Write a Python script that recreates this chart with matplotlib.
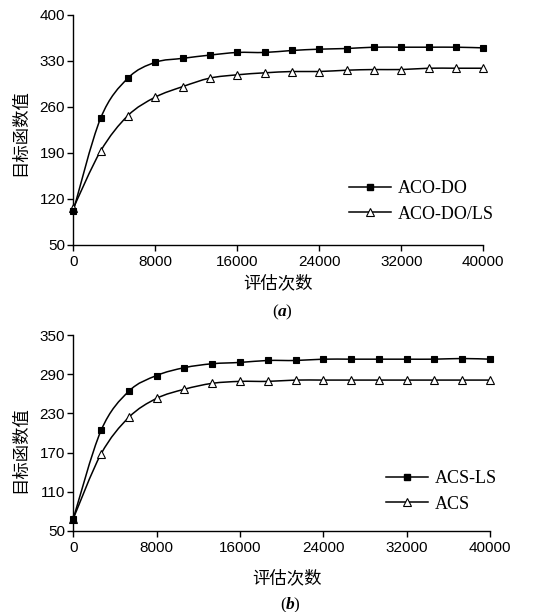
import numpy as np
import matplotlib
matplotlib.use("Agg")
import matplotlib.pyplot as plt
from matplotlib.path import Path
from matplotlib.patches import PathPatch
from matplotlib.lines import Line2D

plt.rcParams['font.family'] = ['Liberation Sans', 'Noto Sans CJK SC']

# ---------------- data ----------------
evals = [0, 2667, 5333, 8000, 10667, 13333, 16000, 18667, 21333, 24000,
         26667, 29333, 32000, 34667, 37333, 40000]

aco_do = [102, 243, 304, 328, 334, 339, 343, 343, 346, 348,
          349, 351, 351, 351, 351, 350]
aco_do_ls = [106, 193, 247, 275, 291, 304, 309, 312, 314, 314,
             316, 317, 317, 319, 319, 319]

acs_ls = [69, 204, 264, 288, 300, 306, 308, 311, 311, 313,
          313, 313, 313, 313, 314, 313]
acs = [69, 168, 224, 253, 267, 276, 279, 279, 281, 281,
       281, 281, 281, 281, 281, 281]

xticks = [0, 8000, 16000, 24000, 32000, 40000]
yticks_a = [50, 120, 190, 260, 330, 400]
yticks_b = [50, 110, 170, 230, 290, 350]
ylabel = '目标函数值'
xlabel = '评估次数'


def smooth_path(x, y):
    x = np.asarray(x, float)
    y = np.asarray(y, float)
    n = len(x)
    verts = [(x[0], y[0])]
    codes = [Path.MOVETO]
    for i in range(n - 1):
        p0 = np.array([x[max(i - 1, 0)], y[max(i - 1, 0)]])
        p1 = np.array([x[i], y[i]])
        p2 = np.array([x[i + 1], y[i + 1]])
        p3 = np.array([x[min(i + 2, n - 1)], y[min(i + 2, n - 1)]])
        c1 = p1 + (p2 - p0) / 6.0
        c2 = p2 - (p3 - p1) / 6.0
        verts += [tuple(c1), tuple(c2), tuple(p2)]
        codes += [Path.CURVE4, Path.CURVE4, Path.CURVE4]
    return Path(verts, codes)


def draw_series(ax, x, y, marker, mfc, ms):
    ax.add_patch(PathPatch(smooth_path(x, y), fill=False, lw=1.1,
                           edgecolor='black', transform=ax.transData,
                           zorder=2))
    ax.plot(x, y, linestyle='none', marker=marker, color='black',
            markerfacecolor=mfc, markeredgecolor='black', markersize=ms,
            markeredgewidth=0.8, zorder=3, clip_on=False)


def style_axes(ax, yticks):
    ax.set_xlim(0, 40000)
    ax.set_ylim(yticks[0], yticks[-1])
    ax.set_xticks(xticks)
    ax.set_yticks(yticks)
    for s in ['top', 'right']:
        ax.spines[s].set_visible(False)
    for s in ['left', 'bottom']:
        ax.spines[s].set_linewidth(1.0)
    ax.tick_params(axis='both', direction='out', length=4, width=1.0,
                   labelsize=11, colors='black')
    ax.tick_params(axis='x', pad=3)
    ax.tick_params(axis='y', pad=2)


W, H = 545, 612
fig = plt.figure(figsize=(W / 100, H / 100), dpi=100)

# ---- (a) ----
ax1 = fig.add_axes([73.3 / W, 1 - 245 / H, (483.3 - 73.3) / W, (245 - 15) / H])
style_axes(ax1, yticks_a)
draw_series(ax1, evals, aco_do_ls, '^', 'white', 5.5)
draw_series(ax1, evals, aco_do, 's', 'black', 5)
h1 = [Line2D([], [], color='black', lw=1.1, marker='s', ms=5, mfc='black'),
      Line2D([], [], color='black', lw=1.1, marker='^', ms=5.5, mfc='white',
             mew=0.8)]
fig.legend(h1, ['ACO-DO', 'ACO-DO/LS'], loc='center left',
           bbox_to_anchor=(340 / W, 1 - 201.5 / H), frameon=False,
           borderpad=0, handlelength=2.3, handletextpad=0.4, labelspacing=0.45,
           prop={'family': 'Liberation Serif', 'size': 13})
fig.text(20 / W, 1 - 133 / H, ylabel, rotation=90, ha='center',
         va='center', fontsize=12.5, family=['Noto Sans CJK SC'])
fig.text(278 / W, 1 - 283 / H, xlabel, ha='center', va='center',
         fontsize=12.5, family=['Noto Sans CJK SC'])
fig.text(278 / W, 1 - 312 / H, '(', ha='right', va='center', fontsize=12.5,
         family='Liberation Serif')
fig.text(278 / W, 1 - 312 / H, 'a', ha='left', va='center', fontsize=12.5,
         family='Liberation Serif', style='italic', weight='bold')
fig.text(285.5 / W, 1 - 312 / H, ')', ha='left', va='center', fontsize=12.5,
         family='Liberation Serif')

# ---- (b) ----
ax2 = fig.add_axes([73.3 / W, 1 - 531 / H, (490 - 73.3) / W, (531 - 335) / H])
style_axes(ax2, yticks_b)
draw_series(ax2, evals, acs, '^', 'white', 5.5)
draw_series(ax2, evals, acs_ls, 's', 'black', 5)
fig.legend(h1, ['ACS-LS', 'ACS'], loc='center left',
           bbox_to_anchor=(377 / W, 1 - 491.5 / H), frameon=False,
           borderpad=0, handlelength=2.3, handletextpad=0.4, labelspacing=0.45,
           prop={'family': 'Liberation Serif', 'size': 13})
fig.text(20 / W, 1 - 450 / H, ylabel, rotation=90, ha='center',
         va='center', fontsize=12.5, family=['Noto Sans CJK SC'])
fig.text(287 / W, 1 - 578 / H, xlabel, ha='center', va='center',
         fontsize=12.5, family=['Noto Sans CJK SC'])
fig.text(286 / W, 1 - 605 / H, '(', ha='right', va='center', fontsize=12.5,
         family='Liberation Serif')
fig.text(286 / W, 1 - 605 / H, 'b', ha='left', va='center', fontsize=12.5,
         family='Liberation Serif', style='italic', weight='bold')
fig.text(293.5 / W, 1 - 605 / H, ')', ha='left', va='center', fontsize=12.5,
         family='Liberation Serif')

fig.savefig('out.png', dpi=100)
